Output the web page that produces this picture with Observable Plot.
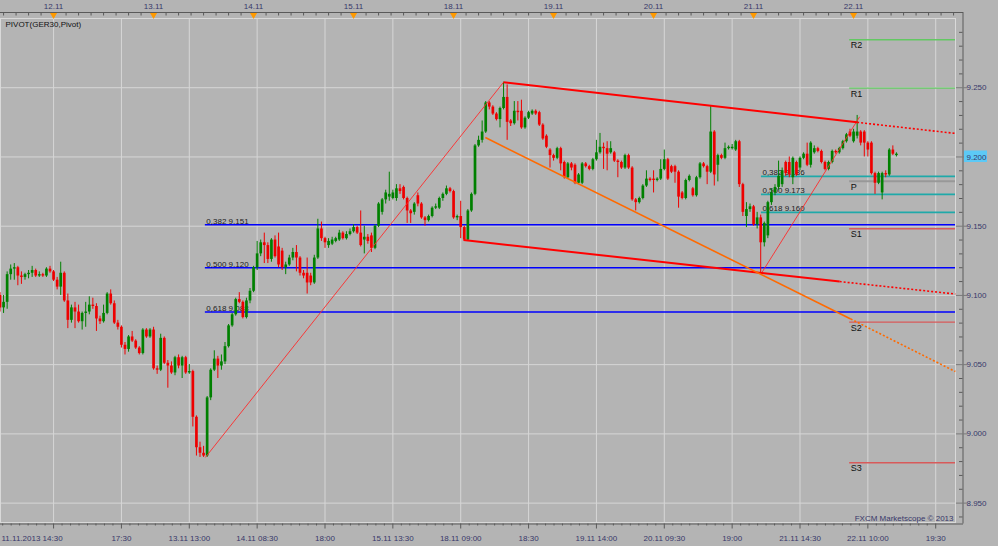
<!DOCTYPE html>
<html><head><meta charset="utf-8">
<script src="https://cdn.jsdelivr.net/npm/d3@7"></script>
<script src="https://cdn.jsdelivr.net/npm/@observablehq/plot@0.6"></script>
<style>html,body{margin:0;padding:0;background:#b4b4b4;overflow:hidden}</style>
</head><body><div id="chart"></div>
<script>
// ---- OHLC data (30-minute candles, GER30), index 0 = 11.11.2013 14:30 ----
const openP = [
9100,9091,9095,9115,9119,9120,9114,9113,9115,9116,
9118,9114,9115,9114,9119,9117,9111,9106,9116,9096,
9082,9091,9088,9081,9087,9088,9093,9092,9083,9081,
9087,9101,9094,9080,9077,9064,9061,9070,9067,9062,
9058,9075,9070,9075,9047,9046,9069,9051,9049,9044,
9055,9049,9055,9044,9045,9012,8990,8986,8984,9026,
9046,9054,9049,9052,9063,9078,9086,9097,9095,9084,
9096,9103,9120,9130,9138,9136,9126,9140,9135,9132,
9120,9122,9127,9131,9127,9116,9116,9114,9109,9127,
9148,9141,9136,9137,9139,9140,9145,9141,9144,9146,
9149,9145,9140,9142,9143,9134,9150,9160,9169,9171,
9170,9170,9177,9178,9170,9161,9160,9172,9166,9156,
9154,9157,9163,9163,9170,9173,9177,9175,9156,9157,
9149,9140,9161,9173,9208,9212,9218,9239,9236,9231,
9227,9235,9243,9226,9224,9233,9233,9221,9228,9231,
9233,9232,9223,9215,9205,9201,9199,9206,9196,9185,
9195,9194,9181,9181,9195,9193,9191,9198,9203,9207,
9206,9203,9203,9197,9196,9192,9201,9192,9169,9167,
9170,9179,9184,9184,9183,9184,9191,9198,9193,9193,
9189,9174,9170,9183,9177,9172,9185,9195,9193,9189,
9218,9194,9201,9199,9206,9206,9205,9211,9180,9157,
9162,9164,9151,9156,9138,9143,9167,9174,9178,9180,
9196,9196,9185,9196,9192,9199,9202,9194,9203,9206,
9204,9196,9191,9196,9204,9203,9206,9211,9218,9211,
9215,9218,9218,9210,9210,9188,9181,9174,9188,9187,
9205,9201];
const highP = [
9102,9100,9117,9122,9123,9121,9117,9116,9118,9121,
9119,9117,9116,9120,9121,9118,9113,9124,9117,9101,
9093,9095,9093,9088,9095,9099,9098,9094,9085,9093,
9102,9104,9096,9082,9078,9066,9071,9074,9068,9063,
9076,9076,9076,9077,9049,9072,9070,9053,9052,9056,
9057,9056,9056,9050,9046,9013,8994,8991,9027,9047,
9060,9056,9057,9066,9079,9087,9098,9102,9096,9098,
9105,9121,9139,9140,9145,9138,9141,9143,9145,9134,
9124,9129,9134,9136,9128,9118,9127,9116,9129,9155,
9153,9142,9141,9142,9142,9147,9146,9146,9148,9151,
9150,9161,9150,9144,9145,9151,9167,9170,9176,9189,
9176,9180,9180,9179,9171,9162,9167,9174,9167,9157,
9158,9164,9166,9171,9174,9179,9178,9176,9158,9168,
9150,9162,9174,9209,9215,9226,9240,9240,9237,9232,
9236,9254,9252,9227,9240,9240,9241,9229,9233,9234,
9234,9233,9224,9216,9206,9202,9207,9207,9197,9196,
9196,9195,9188,9196,9196,9194,9199,9212,9217,9210,
9211,9211,9204,9198,9197,9202,9202,9193,9170,9171,
9180,9190,9185,9190,9185,9198,9205,9199,9194,9194,
9190,9175,9184,9187,9178,9186,9196,9196,9194,9237,
9219,9202,9202,9210,9208,9209,9212,9212,9181,9167,
9166,9165,9160,9158,9153,9168,9177,9180,9197,9192,
9197,9200,9200,9197,9200,9203,9210,9211,9208,9207,
9205,9197,9197,9205,9205,9207,9212,9217,9220,9220,
9230,9219,9219,9211,9211,9189,9189,9189,9190,9206,
9208,9203];
const lowP = [
9088,9087,9090,9111,9111,9107,9108,9111,9112,9113,
9113,9113,9113,9113,9116,9110,9104,9100,9095,9076,
9080,9076,9080,9075,9077,9086,9090,9074,9079,9080,
9086,9093,9079,9075,9062,9057,9059,9066,9061,9057,
9057,9069,9069,9046,9043,9045,9050,9033,9043,9042,
9047,9040,9043,9043,9005,8984,8983,8983,8983,9024,
9045,9040,9046,9050,9062,9077,9085,9094,9083,9083,
9094,9102,9118,9128,9123,9123,9124,9127,9120,9118,
9115,9121,9125,9117,9114,9112,9101,9107,9108,9126,
9139,9134,9134,9136,9138,9139,9140,9140,9143,9145,
9144,9135,9130,9137,9131,9133,9149,9158,9166,9168,
9169,9168,9173,9169,9152,9152,9158,9164,9155,9150,
9153,9156,9162,9162,9168,9172,9174,9155,9154,9141,
9139,9139,9160,9172,9207,9210,9217,9234,9230,9226,
9221,9234,9212,9222,9223,9226,9220,9220,9227,9230,
9230,9222,9212,9206,9192,9197,9198,9190,9184,9184,
9190,9180,9180,9180,9192,9190,9190,9197,9202,9191,
9190,9202,9196,9185,9191,9191,9191,9168,9161,9166,
9169,9178,9182,9174,9182,9183,9190,9183,9188,9181,
9163,9169,9169,9182,9171,9171,9184,9192,9180,9188,
9179,9182,9198,9198,9205,9205,9204,9178,9157,9149,
9160,9150,9148,9116,9135,9141,9165,9172,9176,9178,
9186,9185,9180,9186,9190,9198,9193,9192,9202,9203,
9195,9190,9190,9195,9202,9202,9205,9210,9214,9210,
9213,9208,9200,9200,9187,9173,9180,9169,9185,9186,
9201,9200];
const closeP = [
9091,9095,9115,9119,9120,9114,9113,9115,9116,9118,
9114,9115,9114,9119,9117,9111,9106,9116,9096,9082,
9091,9088,9081,9087,9088,9093,9092,9083,9081,9087,
9101,9094,9080,9077,9064,9061,9070,9067,9062,9058,
9075,9070,9075,9047,9046,9069,9051,9049,9044,9055,
9049,9055,9044,9045,9012,8990,8986,8984,9026,9046,
9054,9049,9052,9063,9078,9086,9097,9095,9084,9096,
9103,9120,9130,9138,9136,9126,9140,9128,9122,9120,
9122,9127,9131,9127,9116,9114,9109,9109,9127,9148,
9141,9138,9139,9140,9141,9145,9141,9144,9146,9149,
9145,9136,9142,9139,9134,9150,9166,9169,9174,9173,
9174,9177,9175,9170,9161,9159,9166,9166,9156,9154,
9157,9163,9164,9170,9173,9177,9175,9156,9157,9149,
9140,9161,9173,9208,9212,9218,9239,9236,9231,9227,
9235,9243,9225,9224,9233,9232,9221,9228,9232,9233,
9231,9223,9213,9207,9201,9199,9206,9195,9185,9195,
9192,9181,9187,9195,9193,9191,9198,9203,9207,9206,
9202,9206,9197,9196,9192,9201,9192,9169,9167,9170,
9179,9184,9183,9183,9184,9191,9198,9184,9189,9189,
9171,9170,9183,9186,9172,9185,9195,9193,9189,9218,
9187,9201,9199,9206,9207,9207,9211,9180,9160,9162,
9164,9151,9156,9138,9152,9167,9174,9178,9186,9190,
9188,9187,9199,9187,9199,9202,9194,9210,9206,9204,
9196,9191,9196,9204,9203,9206,9211,9216,9215,9218,
9218,9210,9210,9205,9188,9181,9188,9188,9187,9205,
9202,9202];

// ---- axis labels ----
const dayIdx = [15,43,71,99,127,155,183,211,239];
const dayLabels = ["12.11","13.11","14.11","15.11","18.11","19.11","20.11","21.11","22.11"];
const timeIdx = [15,34,53,72,91,110,129,148,167,186,205,224,243,262];
const timeLabels = ["","17:30","13.11 13:00","14.11 08:30","18:00","15.11 13:30","18.11 09:00","18:30","19.11 14:00","20.11 09:30","19:00","21.11 14:30","22.11 10:00","19:30"];
const firstLabel = "11.11.2013 14:30";
const priceTicks = [8950,9000,9050,9100,9150,9200,9250];
const lastPrice = 9200;

// ---- Fibonacci / pivot levels ----
const fibRatios = ["0,382","0,500","0,618"];
const fibLeftLevels = [9151,9120,9088];
const fibLeftStart = 57.5;
const fibRightLevels = [9186,9173,9160];
const fibRightStart = 213.2;
const pivotNames = ["R2","R1","P","S1","S2","S3"];
const pivotValues = [9284.6,9249.7,9182.5,9148.2,9080.7,8979.2];
const pivotStart = 237.9;

// ---- trend lines (index, price) ----
const swing1 = [[57.5,8983],[141,9254]];
const swing2 = [[213.2,9116],[240.7,9229]];
const upperSolid = [[141,9254],[240,9225]];
const upperDotted = [[240,9225],[267.5,9217]];
const lowerSolid = [[129.8,9140],[235.1,9110]];
const lowerDotted = [[235.1,9110],[267.5,9101]];
const orangeSolid = [[135.9,9214],[238.2,9083]];
const orangeDotted = [[238.2,9083],[267.5,9045]];

// ---- layout helpers ----
const W = 998, H = 546, TOP = 18, BOT = 522, RIGHT = 955;
const Y0 = 8936, Y1 = 9300, X0 = 0.14, X1 = 267.54;
const XEND = X1;
const py = px => Y1 - (px - TOP) * (Y1 - Y0) / (BOT - TOP);
const ix = px => X0 + px * (X1 - X0) / RIGHT;

const candles = openP.map((o, i) => ({i, o, h: highP[i], l: lowP[i], c: closeP[i]}));
const up = candles.filter(d => d.c >= d.o);
const down = candles.filter(d => d.c < d.o);
const GREEN = "#008000", RED = "#ee0000";

const fibLeft = fibLeftLevels.map((v, k) => ({v, t: fibRatios[k] + " " + (v/1000).toFixed(3)}));
const fibRight = fibRightLevels.map((v, k) => ({v, t: fibRatios[k] + " " + (v/1000).toFixed(3)}));
const pivots = pivotNames.map((n, k) => ({n, v: pivotValues[k]}));
const pivotColor = n => n[0] === "R" ? "#62c862" : n === "P" ? "#989898" : "#d85a5a";

const seg = a => [{x1: a[0][0], y1: a[0][1], x2: a[1][0], y2: a[1][1]}];

const topTicks = d3.range(-4, 73).map(k => 15 + k * 3.5);
const botMinor = [];
for (let k = 0; k < 8 * 14; k++) { const v = 15 - 19 + k * 19 / 8; if (v > 0 && v < 269 && k % 8 !== 0) botMinor.push(v); }
const rightMinor = d3.range(8940, 9301, 10).filter(v => v % 50 !== 0);

const FONT = "Liberation Sans, Arial, sans-serif";
const AXC = "#38386a";

const chart = Plot.plot({
  width: W, height: H,
  marginLeft: 0, marginRight: W - RIGHT, marginTop: TOP, marginBottom: H - BOT,
  x: {domain: [X0, X1], axis: null},
  y: {domain: [Y0, Y1], axis: null},
  style: {background: "#b4b4b4", fontFamily: FONT, overflow: "visible"},
  marks: [
    Plot.gridY(priceTicks, {stroke: "#d6d6d6", strokeOpacity: 1}),
    Plot.gridX(timeIdx, {stroke: "#d6d6d6", strokeOpacity: 1}),
    Plot.frame({stroke: "#d9d9d9"}),
    // fib levels
    Plot.ruleY(fibLeft, {y: "v", x1: fibLeftStart, x2: XEND, stroke: "#0000ff", strokeWidth: 1.6}),
    Plot.ruleY(fibRight, {y: "v", x1: fibRightStart, x2: XEND, stroke: "#1fa9a9", strokeWidth: 1.8}),
    Plot.ruleY(pivots, {y: "v", x1: pivotStart, x2: XEND, stroke: d => pivotColor(d.n), strokeWidth: d => d.n === "P" ? 2 : 1.4}),
    Plot.text(fibLeft, {x: fibLeftStart, y: "v", text: "t", dx: 1, dy: -3.5, textAnchor: "start", fontSize: 8, fill: "#1c1c1c"}),
    Plot.text(fibRight, {x: fibRightStart, y: "v", text: "t", dx: 1, dy: -3.5, textAnchor: "start", fontSize: 8, fill: "#1c1c1c"}),
    Plot.text(pivots, {x: pivotStart, y: "v", text: "n", dx: 1, dy: 5.5, textAnchor: "start", fontSize: 9, fill: "#111"}),
    // candles
    Plot.ruleX(up, {x: "i", y1: "l", y2: "h", stroke: GREEN, strokeWidth: 1}),
    Plot.ruleX(down, {x: "i", y1: "l", y2: "h", stroke: RED, strokeWidth: 1}),
    Plot.ruleX(up, {x: "i", y1: "o", y2: "c", stroke: GREEN, strokeWidth: 2.7}),
    Plot.ruleX(down, {x: "i", y1: "o", y2: "c", stroke: RED, strokeWidth: 2.7}),
    // trend lines
    Plot.link(seg(swing1), {x1: "x1", y1: "y1", x2: "x2", y2: "y2", stroke: "#ff2a2a", strokeWidth: 0.9}),
    Plot.link(seg(swing2), {x1: "x1", y1: "y1", x2: "x2", y2: "y2", stroke: "#ff2a2a", strokeWidth: 0.9}),
    Plot.link(seg(upperSolid), {x1: "x1", y1: "y1", x2: "x2", y2: "y2", stroke: "#ff0000", strokeWidth: 2}),
    Plot.link(seg(upperDotted), {x1: "x1", y1: "y1", x2: "x2", y2: "y2", stroke: "#ff0000", strokeWidth: 1.6, strokeDasharray: "2,2"}),
    Plot.link(seg(lowerSolid), {x1: "x1", y1: "y1", x2: "x2", y2: "y2", stroke: "#ff0000", strokeWidth: 2}),
    Plot.link(seg(lowerDotted), {x1: "x1", y1: "y1", x2: "x2", y2: "y2", stroke: "#ff0000", strokeWidth: 1.6, strokeDasharray: "2,2"}),
    Plot.link(seg(orangeSolid), {x1: "x1", y1: "y1", x2: "x2", y2: "y2", stroke: "#ff6a00", strokeWidth: 1.6}),
    Plot.link(seg(orangeDotted), {x1: "x1", y1: "y1", x2: "x2", y2: "y2", stroke: "#ff6a00", strokeWidth: 1.6, strokeDasharray: "2,2"}),
    // top axis
    Plot.ruleY([py(12)], {x1: ix(0), x2: ix(963), stroke: "#5a5a5a"}),
    Plot.ruleX(topTicks, {x: d => d, y1: py(12), y2: py(15.5), stroke: "#5a5a5a"}),
    Plot.dot(dayIdx, {x: d => d, y: py(14.5), symbol: "triangle", r: 2.6, rotate: 180, fill: "#ff9a00", stroke: "none"}),
    Plot.text(dayIdx, {x: d => d, y: py(5.5), text: (d, k) => dayLabels[k], fontSize: 8, fill: AXC}),
    Plot.text(["PIVOT(GER30,Pivot)"], {x: ix(5), y: py(23.5), text: d => d, textAnchor: "start", fontSize: 8, fill: "#111"}),
    // right axis
    Plot.ruleX([ix(962.5)], {y1: py(12), y2: py(523.5), stroke: "#5a5a5a"}),
    Plot.ruleY(priceTicks, {y: d => d, x1: ix(956), x2: ix(967), stroke: "#7a7a7a"}),
    Plot.ruleY(rightMinor, {y: d => d, x1: ix(959), x2: ix(962.5), stroke: "#5a5a5a"}),
    Plot.rect([lastPrice], {x1: ix(964), x2: ix(987), y1: d => d - 4, y2: d => d + 4.3, fill: "#5cc9f6"}),
    Plot.text(priceTicks, {x: ix(966), y: d => d, text: d => (d/1000).toFixed(3), textAnchor: "start", fontSize: 8, fill: AXC}),
    // bottom axis
    Plot.ruleY([py(523.5)], {x1: ix(0), x2: ix(963), stroke: "#5a5a5a"}),
    Plot.ruleX(timeIdx, {x: d => d, y1: py(523.5), y2: py(528.5), stroke: "#5a5a5a"}),
    Plot.ruleX(botMinor, {x: d => d, y1: py(523.5), y2: py(525.5), stroke: "#5a5a5a"}),
    Plot.text(timeIdx, {x: d => d, y: py(537.5), text: (d, k) => timeLabels[k], fontSize: 8, fill: AXC}),
    Plot.text([firstLabel], {x: ix(1), y: py(537.5), text: d => d, textAnchor: "start", fontSize: 8, fill: AXC}),
    Plot.text(["FXCM Marketscope \u00a9 2013"], {x: ix(953), y: py(518), text: d => d, textAnchor: "end", fontSize: 8, fill: AXC})
  ]
});
document.getElementById("chart").appendChild(chart);
</script>
</body></html>
